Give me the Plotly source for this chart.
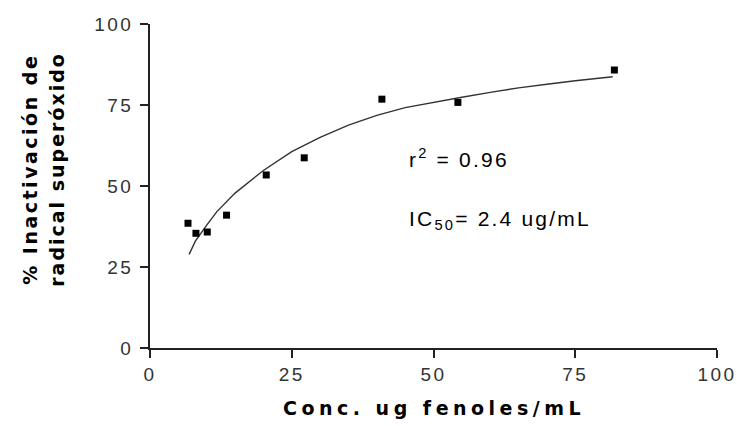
import plotly.graph_objects as go

# measured points
conc = [6.7, 8.1, 10.1, 13.5, 20.5, 27.2, 40.9, 54.3, 81.9]
inact = [38.5, 35.4, 35.8, 41.0, 53.4, 58.7, 76.8, 75.8, 85.8]

# fitted curve
fit_x = [6.9, 8, 10, 11.8, 15, 20, 25, 30, 35, 40, 45, 50, 55, 60, 65, 70, 75, 81.6]
fit_y = [28.9, 33.0, 37.9, 42.1, 47.8, 54.8, 60.6, 65.0, 68.8, 71.8, 74.2, 75.9, 77.4, 78.9, 80.3, 81.4, 82.5, 83.7]

ticks = [0, 25, 50, 75, 100]
tick_text = ['<span style="letter-spacing:2.5px">%d</span>' % t for t in ticks]


def spaced(txt, ls):
    return '<span style="letter-spacing:%spx">%s</span>' % (ls, txt)


fig = go.Figure()
fig.add_trace(go.Scatter(x=fit_x, y=fit_y, mode='lines',
                         line=dict(color='#333333', width=1.4),
                         hoverinfo='skip'))
fig.add_trace(go.Scatter(x=conc, y=inact, mode='markers',
                         marker=dict(symbol='square', size=7, color='black')))

axis_style = dict(range=[0, 100], tickvals=ticks, ticktext=tick_text,
                  showgrid=False, zeroline=False, showline=True, automargin=False,
                  linecolor='#222222', linewidth=1.6,
                  ticks='outside', ticklen=8, tickwidth=1.6, tickcolor='#222222',
                  tickfont=dict(family='Liberation Sans', size=19, color='#333333'))

fig.update_xaxes(**axis_style)
fig.update_yaxes(**axis_style, ticklabelstandoff=3)

title_font = dict(family='DejaVu Sans', size=19, color='black')
fig.add_annotation(text=spaced('<b>Conc. ug fenoles/mL</b>', 4.5),
                   xref='paper', yref='paper', x=0.5, y=-0.185,
                   xanchor='center', yanchor='middle',
                   showarrow=False, font=title_font)
fig.add_annotation(text=spaced('<b>% Inactivación de</b>', 2.5),
                   xref='paper', yref='paper', x=(30 - 150) / 567, y=0.55,
                   xanchor='center', yanchor='middle',
                   textangle=-90, showarrow=False, font=title_font)
fig.add_annotation(text=spaced('<b>radical superóxido</b>', 2),
                   xref='paper', yref='paper', x=(57 - 150) / 567, y=0.55,
                   xanchor='center', yanchor='middle',
                   textangle=-90, showarrow=False, font=title_font)

note_font = dict(family='Liberation Sans', size=21, color='black')
fig.add_annotation(text=spaced('r<sup>2</sup> = 0.96', 2.2),
                   xref='paper', yref='paper', x=(407 - 150) / 567, y=0.586,
                   xanchor='left', yanchor='middle', showarrow=False, font=note_font)
fig.add_annotation(text=spaced('IC<sub>50</sub>= 2.4 ug/mL', 2.2),
                   xref='paper', yref='paper', x=(407 - 150) / 567, y=0.395,
                   xanchor='left', yanchor='middle', showarrow=False, font=note_font)

fig.update_layout(width=737, height=426, showlegend=False,
                  margin=dict(l=150, r=20, t=24, b=78),
                  plot_bgcolor='white', paper_bgcolor='white')

fig.write_html("out.html", config={'displayModeBar': False},
               post_script="document.body.style.margin='0';")
